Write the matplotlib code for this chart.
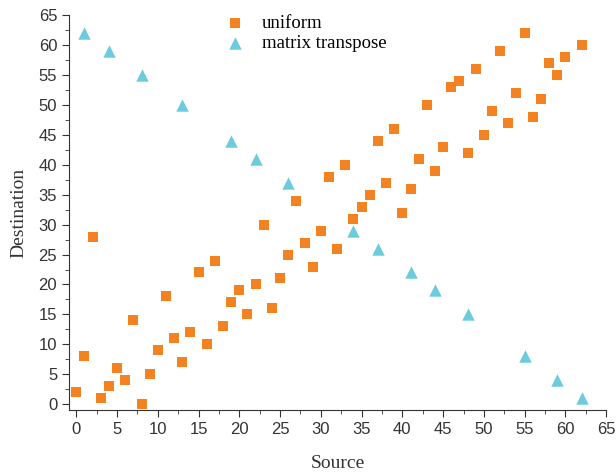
import matplotlib
matplotlib.use('Agg')
import matplotlib.pyplot as plt
from matplotlib.ticker import MultipleLocator

# uniform traffic: source -> destination
uni_src = [0, 1, 2, 3, 4, 5, 6, 7, 8, 9, 10, 11, 12, 13, 14, 15, 16, 17, 18, 19,
           20, 21, 22, 23, 24, 25, 26, 27, 28, 29, 30, 31, 32, 33, 34, 35, 36, 37, 38, 39,
           40, 41, 42, 43, 44, 45, 46, 47, 48, 49, 50, 51, 52, 53, 54, 55, 56, 57, 58, 59,
           60, 62]
uni_dst = [2, 8, 28, 1, 3, 6, 4, 14, 0, 5, 9, 18, 11, 7, 12, 22, 10, 24, 13, 17,
           19, 15, 20, 30, 16, 21, 25, 34, 27, 23, 29, 38, 26, 40, 31, 33, 35, 44, 37, 46,
           32, 36, 41, 50, 39, 43, 53, 54, 42, 56, 45, 49, 59, 47, 52, 62, 48, 51, 57, 55,
           58, 60]

# matrix transpose traffic
mt_src = [1, 4, 8, 13, 19, 22, 26, 34, 37, 41, 44, 48, 55, 59, 62]
mt_dst = [62, 59, 55, 50, 44, 41, 37, 29, 26, 22, 19, 15, 8, 4, 1]

ORANGE = '#F58220'
CYAN = '#6CCBDC'

fig = plt.figure(figsize=(6.16, 4.72), dpi=100)
ax = fig.add_axes([0.112, 0.131, 0.872, 0.837])

ax.scatter(uni_src, uni_dst, marker='s', s=62, color=ORANGE, label='uniform', linewidths=0)
ax.scatter(mt_src, mt_dst, marker='^', s=80, color=CYAN, label='matrix transpose', linewidths=0)

ax.set_xlim(-0.9, 65)
ax.set_ylim(-1, 65)
ax.xaxis.set_major_locator(MultipleLocator(5))
ax.xaxis.set_minor_locator(MultipleLocator(2.5))
ax.yaxis.set_major_locator(MultipleLocator(5))
ax.yaxis.set_minor_locator(MultipleLocator(2.5))
ax.tick_params(which='both', direction='out', color='#333333')
ax.tick_params(which='major', length=5, labelsize=12, labelcolor='#333333')
ax.tick_params(which='minor', length=3)
for t in ax.get_xticklabels() + ax.get_yticklabels():
    t.set_family('Liberation Sans')

ax.spines['top'].set_visible(False)
ax.spines['right'].set_visible(False)
ax.spines['left'].set_color('#333333')
ax.spines['bottom'].set_color('#333333')

ax.set_xlabel('Source', family='Liberation Serif', fontsize=14, color='#333333', labelpad=13)
ax.set_ylabel('Destination', family='Liberation Serif', fontsize=14, color='#333333', labelpad=8)

ax.legend(loc='upper left', bbox_to_anchor=(0.26, 1.02), frameon=False,
          prop={'family': 'Liberation Serif', 'size': 13.5}, handletextpad=0.45,
          labelspacing=0.15, borderaxespad=0.0)

fig.savefig('out.png', dpi=100)
